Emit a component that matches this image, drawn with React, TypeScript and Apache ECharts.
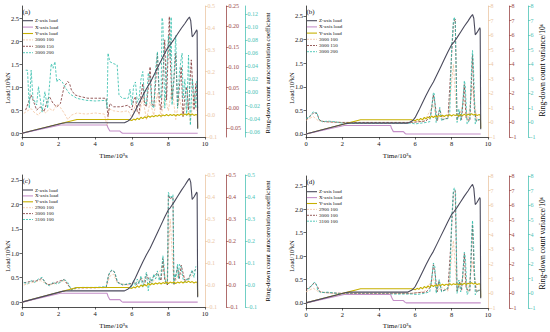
import React, { useEffect, useRef } from "react";
import * as echarts from "echarts";

type Pt = [number, number];

// ---------- tick values ----------
const loadTicks = [0, 0.5, 1, 1.5, 2, 2.5];
const coefTicks = [-0.1, 0, 0.1, 0.2, 0.3, 0.4, 0.5];
const redTicksA = [-0.05, 0, 0.05, 0.1, 0.15, 0.2, 0.25];
const tealTicksA = [-0.06, -0.04, -0.02, 0, 0.02, 0.04, 0.06, 0.08, 0.1, 0.12];
const varTicks = [-1, 0, 1, 2, 3, 4, 5, 6, 7, 8];

// ---------- names ----------
const loadNames = ["Z-axis load", "X-axis load", "Y-axis load"];
const aeNamesAB = ["3000 100", "3000 150", "3000 200"];
const aeNamesCD = ["2900 100", "3000 100", "3100 100"];

// ---------- load data (10^3 kN) vs time (10^3 s) ----------
const zLoad: Pt[] = [[0,0],[2.2,0.22],[2.4,0.23],[5.6,0.23],[5.8,0.27],[5.9,0.3],[6.0,0.35],[6.2,0.5],[6.4,0.66],[6.6,0.82],[6.8,0.97],[7.0,1.1],[7.2,1.26],[7.4,1.42],[7.6,1.58],[7.8,1.74],[8.0,1.89],[8.1,1.93],[8.3,2.04],[8.5,2.16],[8.7,2.28],[8.9,2.39],[9.05,2.48],[9.15,2.53],[9.22,2.45],[9.3,2.1],[9.4,2.15],[9.55,2.25],[9.57,2.22],[9.6,0.1]];
const xLoad: Pt[] = [[0,0],[2.1,0.18],[4.65,0.18],[4.7,0.12],[4.8,0.05],[5.35,0.05],[5.45,0.01],[5.5,0],[9.6,0]];
const yLoad: Pt[] = [[0,0],[3.0,0.3],[5.8,0.3],[6.0,0.28],[6.1,0.31],[6.2,0.29],[6.3,0.33],[6.4,0.3],[6.5,0.35],[6.6,0.32],[6.7,0.36],[6.8,0.33],[6.9,0.38],[7.0,0.35],[7.1,0.38],[7.2,0.36],[7.3,0.39],[7.4,0.37],[7.5,0.4],[7.6,0.37],[7.7,0.4],[7.8,0.38],[7.9,0.41],[8.0,0.38],[8.1,0.41],[8.2,0.39],[8.3,0.41],[8.4,0.38],[8.5,0.41],[8.6,0.39],[8.7,0.42],[8.8,0.39],[8.9,0.42],[9.0,0.4],[9.1,0.43],[9.2,0.4],[9.3,0.42],[9.4,0.39],[9.5,0.41],[9.58,0.4],[9.6,0.12]];

// ---------- (a) autocorrelation coefficient ----------
const a3000_100: Pt[] = [[0.1,0.008],[0.3,0.02],[0.5,0.03],[0.7,0.01],[0.9,0.0],[1.1,0.025],[1.3,0.01],[1.5,0.03],[1.7,0.02],[1.9,0.05],[2.1,0.035],[2.3,0.01],[2.5,-0.02],[2.7,0.0],[3.0,0.01],[3.5,0.005],[4.0,0.01],[4.5,0.005],[4.65,-0.05],[4.75,0.03],[5.0,0.02],[5.4,0.015],[5.8,0.02],[6.0,-0.01],[6.2,0.05],[6.4,0.0],[6.6,0.08],[6.8,-0.02],[7.0,0.06],[7.2,0.0],[7.4,0.1],[7.6,-0.01],[7.8,0.09],[8.0,0.02],[8.2,0.13],[8.4,-0.02],[8.6,0.08],[8.8,0.0],[9.0,0.06],[9.2,-0.03],[9.4,0.1],[9.55,0.02]];
const a3000_150: Pt[] = [[0.2,-0.005],[0.4,0.02],[0.5,0.032],[0.6,0.02],[0.8,-0.005],[1.0,0.003],[1.2,-0.009],[1.4,0.02],[1.5,0.028],[1.7,0.011],[1.9,0.003],[2.1,0.011],[2.3,0.052],[2.5,0.065],[2.6,0.06],[2.7,0.044],[2.9,0.032],[3.2,0.028],[3.6,0.024],[4.0,0.024],[4.6,0.024],[4.7,-0.021],[4.8,0.011],[5.0,0.003],[5.4,0.003],[5.8,0.007],[6.0,-0.005],[6.1,0.02],[6.2,0.028],[6.3,-0.01],[6.4,-0.013],[6.5,0.03],[6.6,0.06],[6.7,0.01],[6.8,0.003],[6.9,0.05],[7.0,0.101],[7.1,0.01],[7.2,0.003],[7.3,0.06],[7.4,0.134],[7.5,0.02],[7.6,-0.005],[7.7,0.08],[7.8,0.167],[7.9,0.02],[8.05,0.224],[8.1,0.12],[8.2,0.02],[8.3,0.07],[8.4,0.134],[8.5,0.003],[8.6,0.05],[8.7,0.101],[8.8,-0.021],[8.9,0.03],[9.0,0.052],[9.1,-0.005],[9.25,0.118],[9.4,-0.005],[9.5,0.06],[9.6,0.0]];
const a3000_200: Pt[] = [[0.2,0.034],[0.3,0.034],[0.4,-0.024],[0.5,0.034],[0.6,-0.009],[0.8,-0.019],[0.9,0.009],[1.1,-0.03],[1.25,0.001],[1.4,-0.024],[1.6,0.044],[1.7,0.037],[1.8,0.047],[1.9,0.016],[2.0,0.021],[2.2,0.016],[2.4,0.006],[2.6,-0.002],[3.0,-0.009],[3.5,-0.012],[4.0,-0.013],[4.6,-0.012],[4.65,-0.024],[4.7,0.06],[4.8,0.047],[5.0,0.044],[5.2,0.042],[5.3,-0.004],[5.5,-0.009],[5.8,-0.009],[5.9,0.005],[6.0,-0.019],[6.1,0.01],[6.2,0.016],[6.3,-0.015],[6.4,-0.009],[6.5,0.02],[6.6,0.032],[6.7,-0.012],[6.8,-0.019],[6.9,0.03],[7.0,0.021],[7.1,-0.02],[7.2,-0.024],[7.3,0.035],[7.4,0.062],[7.5,0.0],[7.6,-0.009],[7.65,0.114],[7.7,0.108],[7.8,-0.024],[7.9,0.03],[8.0,0.087],[8.1,0.052],[8.15,0.115],[8.2,-0.019],[8.3,0.02],[8.4,0.087],[8.5,-0.024],[8.6,0.03],[8.7,0.052],[8.75,0.06],[8.8,-0.009],[8.9,0.02],[9.0,-0.035],[9.1,0.057],[9.2,-0.05],[9.3,0.021],[9.4,0.0],[9.5,-0.024],[9.55,0.02]];

// ---------- (b) variance /10^6 ----------
const b3000_100: Pt[] = [[0.0,0.15],[0.4,0.4],[0.7,0.1],[1.5,0.0],[5.8,0.0],[6.5,0.1],[7.0,1.2],[7.2,0.1],[7.4,0.5],[7.8,0.2],[8.1,4.0],[8.3,0.1],[8.7,1.5],[8.9,0.1],[9.15,2.5],[9.4,0.1]];
const b3000_150: Pt[] = [[0.0,0.2],[0.3,0.5],[0.45,0.7],[0.6,0.6],[0.75,0.15],[1.0,0.05],[2.0,0.0],[4.0,0.0],[5.8,0.0],[6.2,0.05],[6.6,0.1],[6.85,0.5],[7.0,1.9],[7.1,1.2],[7.2,0.1],[7.35,0.9],[7.5,0.2],[7.8,0.3],[7.95,3.5],[8.1,6.8],[8.2,7.1],[8.3,0.2],[8.45,0.7],[8.55,0.2],[8.7,2.6],[8.8,0.3],[9.0,0.1],[9.15,4.6],[9.25,1.0],[9.35,0.1],[9.55,0.2]];
const b3000_200: Pt[] = [[0.0,0.28],[0.15,0.34],[0.3,0.57],[0.4,0.74],[0.5,0.64],[0.6,0.69],[0.7,0.23],[0.9,0.05],[1.2,0.09],[1.6,0.05],[2.0,-0.05],[3.0,-0.05],[4.0,-0.05],[5.0,-0.05],[5.8,-0.05],[6.0,-0.1],[6.3,-0.05],[6.6,0.0],[6.8,0.05],[6.9,0.92],[7.0,2.07],[7.05,1.95],[7.15,0.0],[7.25,0.46],[7.35,1.03],[7.45,0.11],[7.6,0.23],[7.8,0.28],[7.9,0.69],[8.0,5.06],[8.1,7.0],[8.15,7.24],[8.2,6.9],[8.3,0.0],[8.4,0.92],[8.5,0.11],[8.6,1.15],[8.7,2.87],[8.75,2.53],[8.85,-0.11],[9.0,0.23],[9.1,3.9],[9.15,4.94],[9.2,3.9],[9.3,-0.11],[9.4,0.23],[9.55,0.18]];

// ---------- (c) autocorrelation coefficient ----------
const c2900_100: Pt[] = [[0.1,0.0],[0.5,0.01],[1.0,0.02],[1.5,0.0],[2.0,0.01],[2.3,0.02],[2.7,-0.02],[3.5,-0.015],[4.6,-0.012],[4.8,0.04],[5.0,0.05],[5.2,0.01],[5.8,0.0],[6.2,0.01],[6.6,0.03],[7.0,0.0],[7.4,0.04],[7.7,0.09],[7.9,0.0],[8.1,0.3],[8.3,0.0],[8.6,0.06],[9.0,0.02],[9.4,0.05]];
const c3000_100: Pt[] = [[0.1,0.01],[0.4,0.015],[0.8,0.02],[1.1,0.03],[1.4,0.0],[1.8,0.01],[2.3,0.025],[2.7,-0.02],[3.0,-0.012],[4.0,-0.012],[4.6,-0.01],[4.75,0.05],[4.9,0.066],[5.05,0.06],[5.2,0.015],[5.5,0.0],[5.9,0.005],[6.1,0.015],[6.3,0.0],[6.5,0.03],[6.7,0.0],[6.8,0.05],[7.0,0.01],[7.2,0.04],[7.4,0.055],[7.6,0.02],[7.7,0.12],[7.8,0.02],[7.95,0.0],[8.0,0.41],[8.1,0.39],[8.2,0.4],[8.25,0.4],[8.3,0.0],[8.5,0.08],[8.6,0.03],[8.7,0.09],[8.9,0.02],[9.1,0.03],[9.3,0.06],[9.5,0.07]];
const c3100_100: Pt[] = [[0.1,0.012],[0.3,0.005],[0.5,0.02],[0.7,0.012],[0.9,0.027],[1.1,0.035],[1.3,0.005],[1.5,-0.003],[1.7,0.012],[1.9,0.005],[2.1,0.012],[2.3,0.027],[2.5,0.012],[2.7,-0.023],[2.9,-0.014],[3.3,-0.011],[4.0,-0.011],[4.6,-0.008],[4.7,0.035],[4.8,0.058],[4.9,0.068],[5.0,0.065],[5.1,0.05],[5.2,0.02],[5.3,0.005],[5.6,0.002],[5.9,0.008],[6.0,-0.011],[6.1,0.02],[6.2,-0.003],[6.3,0.027],[6.4,0.005],[6.5,0.042],[6.6,-0.011],[6.7,0.027],[6.8,0.058],[6.9,-0.026],[7.0,0.035],[7.1,0.005],[7.2,0.05],[7.3,0.027],[7.4,0.064],[7.5,0.02],[7.6,0.05],[7.7,0.133],[7.75,0.095],[7.8,0.035],[7.9,0.005],[7.95,0.01],[8.0,0.421],[8.1,0.398],[8.15,0.405],[8.2,0.398],[8.25,0.41],[8.3,0.005],[8.35,0.05],[8.4,0.035],[8.5,0.095],[8.55,0.027],[8.6,0.095],[8.7,0.08],[8.8,0.027],[8.9,0.012],[9.0,0.027],[9.1,0.02],[9.2,0.05],[9.3,0.068],[9.4,0.035],[9.5,0.085]];

// ---------- (d) variance /10^6 ----------
const d2900_100: Pt[] = [[0.0,0.1],[0.4,0.35],[0.7,0.1],[1.5,0.0],[5.8,0.0],[6.5,0.12],[7.0,1.0],[7.2,0.1],[7.4,0.45],[7.8,0.15],[8.1,3.6],[8.3,0.1],[8.7,1.3],[8.9,0.1],[9.15,2.2],[9.4,0.1]];
const d3000_100: Pt[] = [[0.0,0.25],[0.3,0.5],[0.45,0.72],[0.6,0.55],[0.75,0.12],[1.0,0.05],[2.0,0.0],[4.0,0.0],[5.8,0.0],[6.2,0.05],[6.6,0.08],[6.85,0.45],[7.0,1.95],[7.1,1.3],[7.2,0.1],[7.3,0.85],[7.45,0.15],[7.8,0.3],[7.95,3.2],[8.1,6.9],[8.2,7.0],[8.3,0.15],[8.45,0.8],[8.55,0.2],[8.7,2.7],[8.8,0.3],[9.0,0.15],[9.15,4.7],[9.25,1.1],[9.35,0.1],[9.55,0.22]];
const d3100_100: Pt[] = [[0.1,0.3],[0.2,0.36],[0.35,0.6],[0.45,0.75],[0.55,0.7],[0.65,0.2],[0.8,0.05],[1.2,0.08],[2.0,-0.05],[5.8,-0.05],[6.1,-0.08],[6.5,0.0],[6.8,0.1],[6.9,0.9],[7.0,2.07],[7.08,1.8],[7.15,0.0],[7.25,0.5],[7.32,0.93],[7.45,0.1],[7.7,0.25],[7.9,0.6],[8.0,5.0],[8.1,7.0],[8.15,7.2],[8.22,6.8],[8.3,0.0],[8.4,0.9],[8.5,0.1],[8.6,1.1],[8.7,2.8],[8.76,2.4],[8.85,-0.1],[9.0,0.25],[9.1,3.9],[9.15,4.97],[9.2,3.8],[9.3,-0.1],[9.45,0.25],[9.55,0.2]];

const FONT = "'Liberation Serif','Times New Roman','DejaVu Serif',serif";
const COL = { z: "#4a4a5c", x: "#c590c9", y: "#c6b000", peach: "#f2c4a0", red: "#7c3434", teal: "#2dbcaa" };
const AXC = ["#ebc6a4", "#9a4848", "#4cc3b6"];
const AEC = [COL.peach, COL.red, COL.teal];

interface PanelCfg {
  tag: string; left: number; top: number; width: number; height: number;
  loadRange: [number, number]; ranges: [number, number][]; ticks: number[][]; decimals: number[];
  names: string[]; data: Pt[][]; rightTitle: string; rightSize: number;
  legendX: number; legendY: number; legendStep: number;
  yTitleX: number; yTitleY: number; rTitleX: number; rTitleY: number; xTitleY: number;
}

const panels: PanelCfg[] = [
  { tag: "(a)", left: 22, top: 6, width: 183, height: 131, loadRange: [-0.08, 2.77],
    ranges: [[-0.1, 0.5], [-0.071, 0.25], [-0.068, 0.132]], ticks: [coefTicks, redTicksA, tealTicksA], decimals: [1, 2, 2],
    names: aeNamesAB, data: [a3000_100, a3000_150, a3000_200], rightTitle: "Ring-down count autocorrelation coefficient", rightSize: 6.8,
    legendX: 23, legendY: 20.7, legendStep: 6.4, yTitleX: 7, yTitleY: 88, rTitleX: 267, rTitleY: 73, xTitleY: 156 },
  { tag: "(b)", left: 306, top: 6, width: 182, height: 131, loadRange: [-0.064, 2.71],
    ranges: [[-1, 8], [-1, 8], [-1, 8]], ticks: [varTicks, varTicks, varTicks], decimals: [0, 0, 0],
    names: aeNamesAB, data: [b3000_100, b3000_150, b3000_200], rightTitle: "Ring-down count variance/10\u2076", rightSize: 7.6,
    legendX: 307, legendY: 20.7, legendStep: 6.2, yTitleX: 291, yTitleY: 88, rTitleX: 542, rTitleY: 70, xTitleY: 156 },
  { tag: "(c)", left: 22, top: 175, width: 183, height: 132, loadRange: [-0.1, 2.6],
    ranges: [[-0.1, 0.5], [-0.1, 0.5], [-0.1, 0.5]], ticks: [coefTicks, coefTicks, coefTicks], decimals: [1, 1, 1],
    names: aeNamesCD, data: [c2900_100, c3000_100, c3100_100], rightTitle: "Ring-down count autocorrelation coefficient", rightSize: 6.8,
    legendX: 23, legendY: 190, legendStep: 5.9, yTitleX: 7, yTitleY: 256, rTitleX: 267, rTitleY: 241, xTitleY: 326 },
  { tag: "(d)", left: 306, top: 176, width: 182, height: 132, loadRange: [-0.11, 2.71],
    ranges: [[-1, 8], [-1, 8], [-1, 8]], ticks: [varTicks, varTicks, varTicks], decimals: [0, 0, 0],
    names: aeNamesCD, data: [d2900_100, d3000_100, d3100_100], rightTitle: "Ring-down count variance/10\u2076", rightSize: 7.6,
    legendX: 307, legendY: 191.7, legendStep: 5.9, yTitleX: 291, yTitleY: 256, rTitleX: 542, rTitleY: 243, xTitleY: 326 },
];

const fmt = (v: number, d: number) => (Math.abs(v) < 1e-9 ? (0).toFixed(d) : v.toFixed(d));

function buildOption() {
  const grid: any[] = [], xAxis: any[] = [], yAxis: any[] = [], series: any[] = [], graphic: any[] = [];
  const offsets = [0, 21, 40];
  panels.forEach((p, i) => {
    grid.push({ left: p.left, top: p.top, width: p.width, height: p.height });
    xAxis.push({
      type: "value", gridIndex: i, min: 0, max: 10, interval: 2,
      axisLine: { show: true, onZero: false, lineStyle: { color: "#222", width: 0.8 } },
      axisTick: { show: true, length: 2.5, lineStyle: { color: "#222", width: 0.7 } },
      axisLabel: { fontSize: 6.5, color: "#111", margin: 3, fontFamily: FONT },
      splitLine: { show: false },
    });
    yAxis.push({
      type: "value", gridIndex: i, position: "left", min: p.loadRange[0], max: p.loadRange[1],
      axisLine: { show: true, onZero: false, lineStyle: { color: "#222", width: 0.8 } },
      axisTick: { show: true, length: 2.5, customValues: loadTicks, lineStyle: { color: "#222", width: 0.7 } },
      axisLabel: { customValues: loadTicks, formatter: (v: number) => fmt(v, 1), fontSize: 6.5, color: "#111", margin: 3, fontFamily: FONT },
      splitLine: { show: false },
    });
    for (let j = 0; j < 3; j++) {
      yAxis.push({
        type: "value", gridIndex: i, position: "right", offset: offsets[j], min: p.ranges[j][0], max: p.ranges[j][1],
        axisLine: { show: true, onZero: false, lineStyle: { color: AXC[j], width: 0.8 } },
        axisTick: { show: true, length: 2.5, customValues: p.ticks[j], lineStyle: { color: AXC[j], width: 0.7 } },
        axisLabel: { customValues: p.ticks[j], formatter: (v: number) => fmt(v, p.decimals[j]), fontSize: 6, color: AXC[j], margin: 2.5, fontFamily: FONT },
        splitLine: { show: false },
      });
    }
    const base = i * 4;
    for (let j = 0; j < 3; j++) {
      series.push({
        type: "line", name: p.names[j] + "#" + i, xAxisIndex: i, yAxisIndex: base + 1 + j, data: p.data[j],
        showSymbol: false, symbol: "none", smooth: false,
        lineStyle: { color: AEC[j], width: 0.8, type: [2.5, 1.5] },
      });
    }
    const loads = [zLoad, xLoad, yLoad];
    const lc = [COL.z, COL.x, COL.y];
    for (let j = 2; j >= 0; j--) {
      series.push({
        type: "line", name: loadNames[j] + "#" + i, xAxisIndex: i, yAxisIndex: base, data: loads[j],
        showSymbol: false, symbol: "none", lineStyle: { color: lc[j], width: 1.1 },
      });
    }
    // legend (drawn)
    const legItems = [
      { n: loadNames[0], c: COL.z, dash: null },
      { n: loadNames[1], c: COL.x, dash: null },
      { n: loadNames[2], c: COL.y, dash: null },
      { n: p.names[0], c: COL.peach, dash: [2, 1] },
      { n: p.names[1], c: COL.red, dash: [2, 1] },
      { n: p.names[2], c: COL.teal, dash: [2, 1] },
    ];
    legItems.forEach((it, k) => {
      const y = p.legendY + k * p.legendStep;
      graphic.push({ type: "line", silent: true, shape: { x1: p.legendX, y1: y, x2: p.legendX + 10, y2: y },
        style: { stroke: it.c, lineWidth: it.dash ? 0.8 : 1.1, lineDash: it.dash || undefined } });
      graphic.push({ type: "text", silent: true, x: p.legendX + 12, y, style: { text: it.n, fontSize: 5, fontFamily: FONT, fill: "#111", verticalAlign: "middle", align: "left" } });
    });
    graphic.push({ type: "text", silent: true, x: p.left + 0.5, y: p.top + 6, style: { text: p.tag, fontSize: 7, fontFamily: FONT, fill: "#111", verticalAlign: "middle" } });
    graphic.push({ type: "text", silent: true, x: p.left + p.width / 2, y: p.xTitleY, style: { text: "Time/10\u00b3s", fontSize: 7, fontFamily: FONT, fill: "#111", align: "center", verticalAlign: "middle" } });
    graphic.push({ type: "text", silent: true, x: p.yTitleX, y: p.yTitleY, rotation: Math.PI / 2, style: { text: "Load/10\u00b3kN", fontSize: 6.5, fontFamily: FONT, fill: "#111", align: "center", verticalAlign: "middle" } });
    graphic.push({ type: "text", silent: true, x: p.rTitleX, y: p.rTitleY, rotation: Math.PI / 2, style: { text: p.rightTitle, fontSize: p.rightSize, fontFamily: FONT, fill: "#000", align: "center", verticalAlign: "middle" } });
  });
  return { animation: false, backgroundColor: "#fff", textStyle: { fontFamily: FONT }, grid, xAxis, yAxis, series, graphic };
}

export default function App() {
  const ref = useRef<HTMLDivElement>(null);
  useEffect(() => {
    if (!ref.current) return;
    const chart = echarts.init(ref.current, undefined, { renderer: "svg" });
    chart.setOption(buildOption() as any);
    return () => chart.dispose();
  }, []);
  return <div ref={ref} style={{ position: "absolute", left: 0, top: 0, width: 550, height: 332 }} />;
}
